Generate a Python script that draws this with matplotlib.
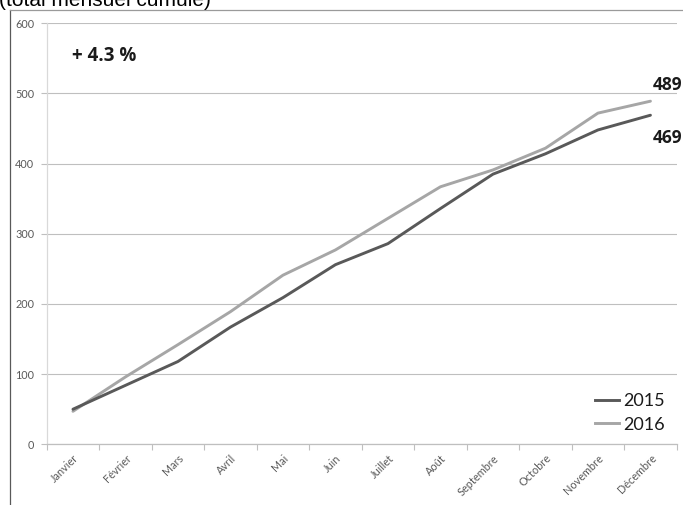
import matplotlib
matplotlib.use("Agg")
import matplotlib.pyplot as plt
from matplotlib.lines import Line2D

months = ["Janvier", "Février", "Mars", "Avril", "Mai", "Juin", "Juillet",
          "Août", "Septembre", "Octobre", "Novembre", "Décembre"]
values_2015 = [50, 84, 118, 167, 209, 256, 286, 336, 385, 414, 448, 469]
values_2016 = [47, 96, 142, 189, 241, 277, 322, 367, 391, 422, 472, 489]
series_names = ["2015", "2016"]
growth_label = "+ 4.3 %"
subtitle = "(total mensuel cumulé)"

W, H = 683, 505
fig = plt.figure(figsize=(W / 100, H / 100), dpi=100)
FONT = ["Lato", "DejaVu Sans"]
BOLD = ["Open Sans", "DejaVu Sans"]

def fx(px):
    return px / W

def fy(py):
    return 1 - py / H

left, right, top, bottom = 46.7, 676.7, 23.3, 444.3
ax = fig.add_axes([fx(left), fy(bottom), fx(right - left), (bottom - top) / H])

dark = "#595959"
light = "#A6A6A6"
x = list(range(len(months)))
ax.plot(x, values_2015, color=dark, lw=2.1, solid_capstyle="round", zorder=3)
ax.plot(x, values_2016, color=light, lw=2.1, solid_capstyle="round", zorder=2)

ax.set_xlim(-0.5, len(months) - 0.5)
ax.set_ylim(0, 600)
ax.set_yticks(range(0, 601, 100))
ax.yaxis.grid(True, color="#BFBFBF", lw=0.8)
ax.set_axisbelow(True)

for s in ["top", "right"]:
    ax.spines[s].set_visible(False)
ax.spines["left"].set_color("#D9D9D9")
ax.spines["bottom"].set_color("#BFBFBF")
ax.spines["left"].set_linewidth(0.9)
ax.spines["bottom"].set_linewidth(0.9)

ax.set_xticks(x)
ax.set_xticklabels(months, rotation=45, ha="right", rotation_mode="anchor",
                   fontsize=7.8, color=dark, family=FONT)
ax.tick_params(axis="x", which="major", length=0, pad=6)
ax.set_xticks([i - 0.5 for i in range(len(months) + 1)], minor=True)
ax.tick_params(axis="x", which="minor", length=4, color="#BFBFBF", width=0.8)
ax.tick_params(axis="y", length=4, color="#BFBFBF", width=0.8, labelsize=7.8,
               labelcolor=dark, pad=5)
for lbl in ax.get_yticklabels():
    lbl.set_family(FONT)

# annotations
ax.text(-0.02, 553, growth_label, fontsize=13.5, fontweight="bold", color="#1a1a1a",
        family=BOLD, ha="left", va="center")
ax.text(11.6, 512, str(values_2016[-1]), fontsize=12.5, fontweight="bold",
        color="#1a1a1a", family=BOLD, ha="right", va="center")
ax.text(11.6, 436, str(values_2015[-1]), fontsize=12.5, fontweight="bold",
        color="#1a1a1a", family=BOLD, ha="right", va="center")

handles = [Line2D([], [], color=dark, lw=2.1), Line2D([], [], color=light, lw=2.1)]
leg = ax.legend(handles, series_names, loc="lower right", frameon=False,
                bbox_to_anchor=(1.0, 0.0), prop={"family": FONT, "size": 13},
                handlelength=1.3, handletextpad=0.25, labelspacing=0.4,
                borderaxespad=0.25)
for t in leg.get_texts():
    t.set_color("#1a1a1a")

# outer frame of the original (cropped) chart
fig.add_artist(Line2D([fx(9.5), fx(9.5)], [fy(9.5), 0], color="#595959", lw=0.9,
                      transform=fig.transFigure))
fig.add_artist(Line2D([fx(9.5), 1], [fy(9.5), fy(9.5)], color="#9a9a9a", lw=0.9,
                      transform=fig.transFigure))

fig.text(fx(-1), fy(6), subtitle, fontsize=15, family=["Liberation Sans", "DejaVu Sans"],
         ha="left", va="baseline", color="#000000")

fig.savefig("out.png", dpi=100)
